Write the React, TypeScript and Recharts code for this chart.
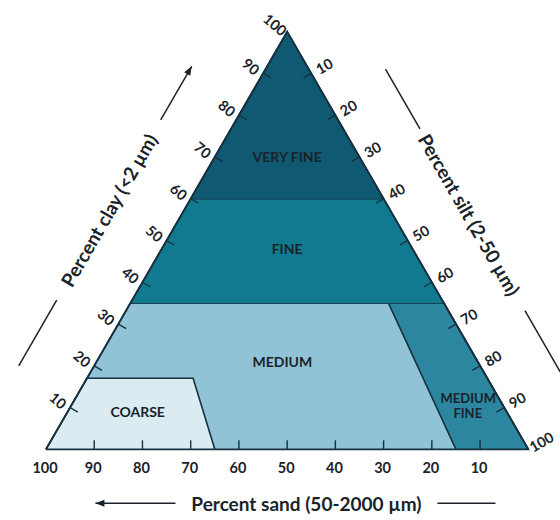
import React from 'react';
import { ComposedChart, Area, Line, Scatter, XAxis, YAxis } from 'recharts';

// ternary points, each one [sand, silt, clay] in percent
const veryFine = [[40, 0, 60], [0, 0, 100], [0, 40, 60]];
const fine = [[65, 0, 35], [40, 0, 60], [0, 40, 60], [0, 65, 35]];
const medium = [[100, 0, 0], [65, 0, 35], [0, 65, 35], [0, 100, 0]];
const coarse = [[100, 0, 0], [83, 0, 17], [61, 22, 17], [65, 35, 0]];
const mediumFine = [[15, 85, 0], [11.5, 53.5, 35], [0, 65, 35], [0, 100, 0]];
const outline = [[100, 0, 0], [0, 0, 100], [0, 100, 0], [100, 0, 0]];

const tickValues = [10, 20, 30, 40, 50, 60, 70, 80, 90];
const labelValues = [10, 20, 30, 40, 50, 60, 70, 80, 90, 100];

const regionLabels = [
  { name: 'VERY FINE', at: [15, 15, 70] },
  { name: 'FINE', at: [26, 26, 48] },
  { name: 'MEDIUM', at: [40.5, 38.5, 21] },
  { name: 'COARSE', at: [76.5, 14.5, 9] },
];
// the two-line label, one entry per line
const mediumFineLabels = [
  { name: 'MEDIUM', at: [6.3, 81.4, 12.3] },
  { name: 'FINE', at: [8.2, 83.1, 8.7] },
];

const sandTitle = 'Percent sand (50-2000 µm)';
const clayTitle = 'Percent clay (<2 µm)';
const siltTitle = 'Percent silt (2-50 µm)';

// page / triangle geometry in pixels
const W = 560;
const H = 520;
const LEFT = 46;
const RIGHT = 528.3;
const BASE = 449.3;
const APEX = 31.7;
const kx = (RIGHT - LEFT) / 100;
const ky = (BASE - APEX) / 100;
const xDomain = [-LEFT / kx, 100 + (W - RIGHT) / kx];
const yDomain = [-(H - BASE) / ky, 100 + APEX / ky];

const FONT = "Lato, 'Open Sans', sans-serif";
const INK = '#1a2329';
const EDGE = '#17303f';

const toXY = (p: number[]) => ({ x: p[1] + p[2] / 2, y: p[2] });
const poly = (pts: number[][]) => pts.map(toXY);

const sandPoint = (s: number) => toXY([s, 100 - s, 0]);
const clayPoint = (c: number) => toXY([100 - c, 0, c]);
const siltPoint = (t: number) => toXY([0, t, 100 - t]);

const sandTicks = tickValues.map(sandPoint);
const clayTicks = tickValues.map(clayPoint);
const siltTicks = tickValues.map(siltPoint);

const sandLabels = labelValues.map((v) => ({ ...sandPoint(v), label: v }));
const clayLabels = labelValues.map((v) => ({ ...clayPoint(v), label: v }));
const siltLabels = labelValues.map((v) => ({ ...siltPoint(v), label: v }));

const regions = regionLabels.map((r) => ({ ...toXY(r.at), label: r.name }));
const mfRegion = mediumFineLabels.map((r) => ({ ...toXY(r.at), label: r.name }));

const tickShape = (dx: number, dy: number) => (props: any) => (
  <line
    x1={props.cx}
    y1={props.cy}
    x2={props.cx + dx * 9}
    y2={props.cy + dy * 9}
    stroke={EDGE}
    strokeWidth={1.4}
  />
);

const numberShape = (dx: number, dy: number, rot: number) => (props: any) => (
  <text
    transform={`translate(${props.cx + dx},${props.cy + dy}) rotate(${rot})`}
    textAnchor="middle"
    dominantBaseline="central"
    fontFamily={FONT}
    fontWeight={700}
    fontSize={14.5}
    fill={INK}
  >
    {props.payload.label}
  </text>
);

const regionShape = (size: number) => (props: any) => (
  <text
    x={props.cx}
    y={props.cy}
    textAnchor="middle"
    dominantBaseline="central"
    fontFamily={FONT}
    fontWeight={700}
    fontSize={size}
    fill={INK}
  >
    {props.payload.label}
  </text>
);

// title with its side rules; before / after = rule extents along the text direction
const titleShape =
  (rot: number, before: number[], after: number[], arrow?: 'start' | 'end') => (props: any) => {
    const tip = arrow === 'start' ? before[0] : after[1];
    const dir = arrow === 'start' ? 1 : -1;
    return (
      <g transform={`translate(${props.cx},${props.cy}) rotate(${rot})`}>
        <text
          textAnchor="middle"
          dominantBaseline="central"
          fontFamily={FONT}
          fontWeight={700}
          fontSize={19}
          fill={INK}
        >
          {props.payload.label}
        </text>
        <line x1={before[0]} x2={before[1]} y1={0} y2={0} stroke={INK} strokeWidth={1.5} />
        <line x1={after[0]} x2={after[1]} y1={0} y2={0} stroke={INK} strokeWidth={1.5} />
        {arrow ? (
          <polygon
            points={`${tip},0 ${tip + dir * 9},-3.5 ${tip + dir * 9},3.5`}
            fill={INK}
          />
        ) : null}
      </g>
    );
  };

const sandTitleData = [{ x: 54, y: -12.9, label: sandTitle }];
const clayTitleData = [{ x: 13, y: 57.3, label: clayTitle }];
const siltTitleData = [{ x: 87.8, y: 56.2, label: siltTitle }];

export default function App() {
  const areaProps = {
    type: 'linear' as const,
    dataKey: 'y',
    fillOpacity: 1,
    stroke: EDGE,
    strokeWidth: 1.6,
    dot: false,
    activeDot: false,
    isAnimationActive: false,
  };
  return (
    <div style={{ position: 'absolute', left: 0, top: 0 }}>
      <ComposedChart width={W} height={H} margin={{ top: 0, right: 0, bottom: 0, left: 0 }}>
        <XAxis type="number" dataKey="x" domain={xDomain} hide />
        <YAxis type="number" dataKey="y" domain={yDomain} hide />

        <Area {...areaProps} data={poly(medium)} baseValue={0} fill="#8fc3d5" />
        <Area {...areaProps} data={poly(coarse)} baseValue={0} fill="#daebf1" />
        <Area {...areaProps} data={poly(mediumFine)} baseValue={0} fill="#2c86a0" />
        <Area {...areaProps} data={poly(fine)} baseValue={35} fill="#117a90" />
        <Area {...areaProps} data={poly(veryFine)} baseValue={60} fill="#0f5a72" />
        <Line
          type="linear"
          data={poly(outline)}
          dataKey="y"
          stroke={EDGE}
          strokeWidth={1.8}
          dot={false}
          activeDot={false}
          isAnimationActive={false}
        />

        <Scatter data={sandTicks} dataKey="y" shape={tickShape(0, -1)} isAnimationActive={false} />
        <Scatter data={clayTicks} dataKey="y" shape={tickShape(0.866, 0.5)} isAnimationActive={false} />
        <Scatter data={siltTicks} dataKey="y" shape={tickShape(-0.866, 0.5)} isAnimationActive={false} />

        <Scatter data={sandLabels} dataKey="y" shape={numberShape(-1, 18, 0)} isAnimationActive={false} />
        <Scatter data={clayLabels} dataKey="y" shape={numberShape(-12, -7, 40)} isAnimationActive={false} />
        <Scatter data={siltLabels} dataKey="y" shape={numberShape(13, -7.5, -30)} isAnimationActive={false} />

        <Scatter data={regions} dataKey="y" shape={regionShape(14)} isAnimationActive={false} />
        <Scatter data={mfRegion} dataKey="y" shape={regionShape(13)} isAnimationActive={false} />

        <Scatter
          data={sandTitleData}
          dataKey="y"
          shape={titleShape(0, [-211, -131], [131, 189], 'start')}
          isAnimationActive={false}
        />
        <Scatter
          data={clayTitleData}
          dataKey="y"
          shape={titleShape(-60, [-180, -104], [104, 166], 'end')}
          isAnimationActive={false}
        />
        <Scatter
          data={siltTitleData}
          dataKey="y"
          shape={titleShape(60, [-168, -99], [111, 185])}
          isAnimationActive={false}
        />
      </ComposedChart>
    </div>
  );
}
